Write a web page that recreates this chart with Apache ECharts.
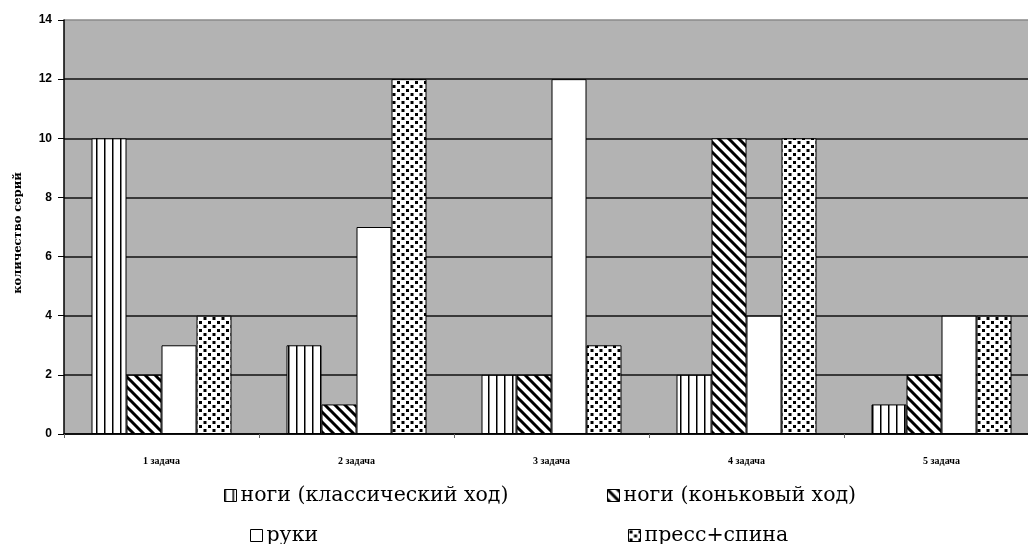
<!DOCTYPE html>
<html>
<head>
<meta charset="utf-8">
<script src="https://cdn.jsdelivr.net/npm/echarts@6/dist/echarts.min.js"></script>
<style>
  html, body { margin: 0; padding: 0; background: #fff; }
  #chart { width: 1028px; height: 544px; }
</style>
</head>
<body>
<div id="chart"></div>
<script>
// Tasks along the x axis
const categories = ['1 задача', '2 задача', '3 задача', '4 задача', '5 задача'];

// Number of series per muscle group
const legsClassic = [10, 3, 2, 2, 1];
const legsSkate = [2, 1, 2, 10, 2];
const arms = [3, 7, 12, 4, 4];
const absBack = [4, 12, 3, 10, 4];

const seriesNames = ['ноги (классический ход)', 'ноги (коньковый ход)', 'руки', 'пресс+спина'];
const yTicks = [0, 2, 4, 6, 8, 10, 12, 14];

// Monochrome hatch fills drawn on small canvases
function tile(w, h, draw) {
  const c = document.createElement('canvas');
  c.width = w; c.height = h;
  const g = c.getContext('2d');
  g.fillStyle = '#fff';
  g.fillRect(0, 0, w, h);
  g.fillStyle = '#000';
  g.strokeStyle = '#000';
  draw(g, w, h);
  return { image: c, repeat: 'repeat' };
}

const vertical = tile(8, 8, (g) => { g.fillRect(0, 0, 1.5, 8); });
const diagonal = tile(10, 10, (g) => {
  g.lineWidth = 3;
  g.beginPath();
  g.moveTo(-2, -2); g.lineTo(12, 12);
  g.moveTo(-12, -2); g.lineTo(2, 12);
  g.moveTo(8, -2); g.lineTo(22, 12);
  g.stroke();
});
const plain = '#ffffff';
const dotted = tile(9, 8, (g) => {
  g.fillRect(1, 1, 3, 3);
  g.fillRect(5.5, 5, 3, 3);
});

const fills = [vertical, diagonal, plain, dotted];
const values = [legsClassic, legsSkate, arms, absBack];

const chart = echarts.init(document.getElementById('chart'), null, { renderer: 'canvas' });

const legendPos = [
  { left: 224, top: 485 },
  { left: 607, top: 485 },
  { left: 250, top: 525 },
  { left: 628, top: 525 }
];

const option = {
  animation: false,
  backgroundColor: '#ffffff',
  legend: seriesNames.map((n, i) => ({
    data: [n],
    left: legendPos[i].left,
    top: legendPos[i].top,
    icon: 'rect',
    itemWidth: 12,
    itemHeight: 12,
    itemGap: 4,
    padding: 0,
    selectedMode: false,
    itemStyle: { borderColor: '#000', borderWidth: 1 },
    textStyle: { fontFamily: 'DejaVu Serif', fontSize: 20.5, color: '#000', padding: [0, 0, 0, -1] }
  })),
  grid: {
    left: 64,
    top: 20,
    width: 975,
    height: 414,
    outerBoundsMode: 'none',
    containLabel: false,
    show: true,
    backgroundColor: '#b3b3b3',
    borderWidth: 0
  },
  xAxis: {
    type: 'category',
    data: categories,
    axisLine: { lineStyle: { color: '#000', width: 1.5 } },
    axisTick: { show: true, length: 4, lineStyle: { color: '#666' } },
    axisLabel: {
      margin: 22,
      fontFamily: 'Liberation Serif',
      fontWeight: 'bold',
      fontSize: 10,
      color: '#000'
    },
    splitLine: { show: false }
  },
  yAxis: {
    type: 'value',
    min: yTicks[0],
    max: yTicks[yTicks.length - 1],
    interval: 2,
    name: 'количество серий',
    nameLocation: 'middle',
    nameGap: 40,
    nameTextStyle: { fontFamily: 'DejaVu Serif', fontSize: 11.5, fontWeight: 'bold', color: '#000', padding: [0, 12, 0, 0] },
    axisLine: { show: true, lineStyle: { color: '#000', width: 1.5 } },
    axisTick: { show: true, inside: false, length: 6, lineStyle: { color: '#000' } },
    axisLabel: {
      margin: 12,
      fontFamily: 'Liberation Sans',
      fontSize: 12,
      fontWeight: 'bold',
      color: '#000'
    },
    splitLine: {
      show: true,
      lineStyle: { color: ['#111', '#111', '#111', '#111', '#111', '#111', '#111', '#8a8a8a'], width: 1.5 }
    }
  },
  series: seriesNames.map((n, i) => ({
    name: n,
    type: 'bar',
    data: values[i],
    barWidth: 35,
    barGap: '0%',
    itemStyle: { color: fills[i], borderColor: '#000', borderWidth: 1 }
  }))
};

chart.setOption(option);
</script>
</body>
</html>
